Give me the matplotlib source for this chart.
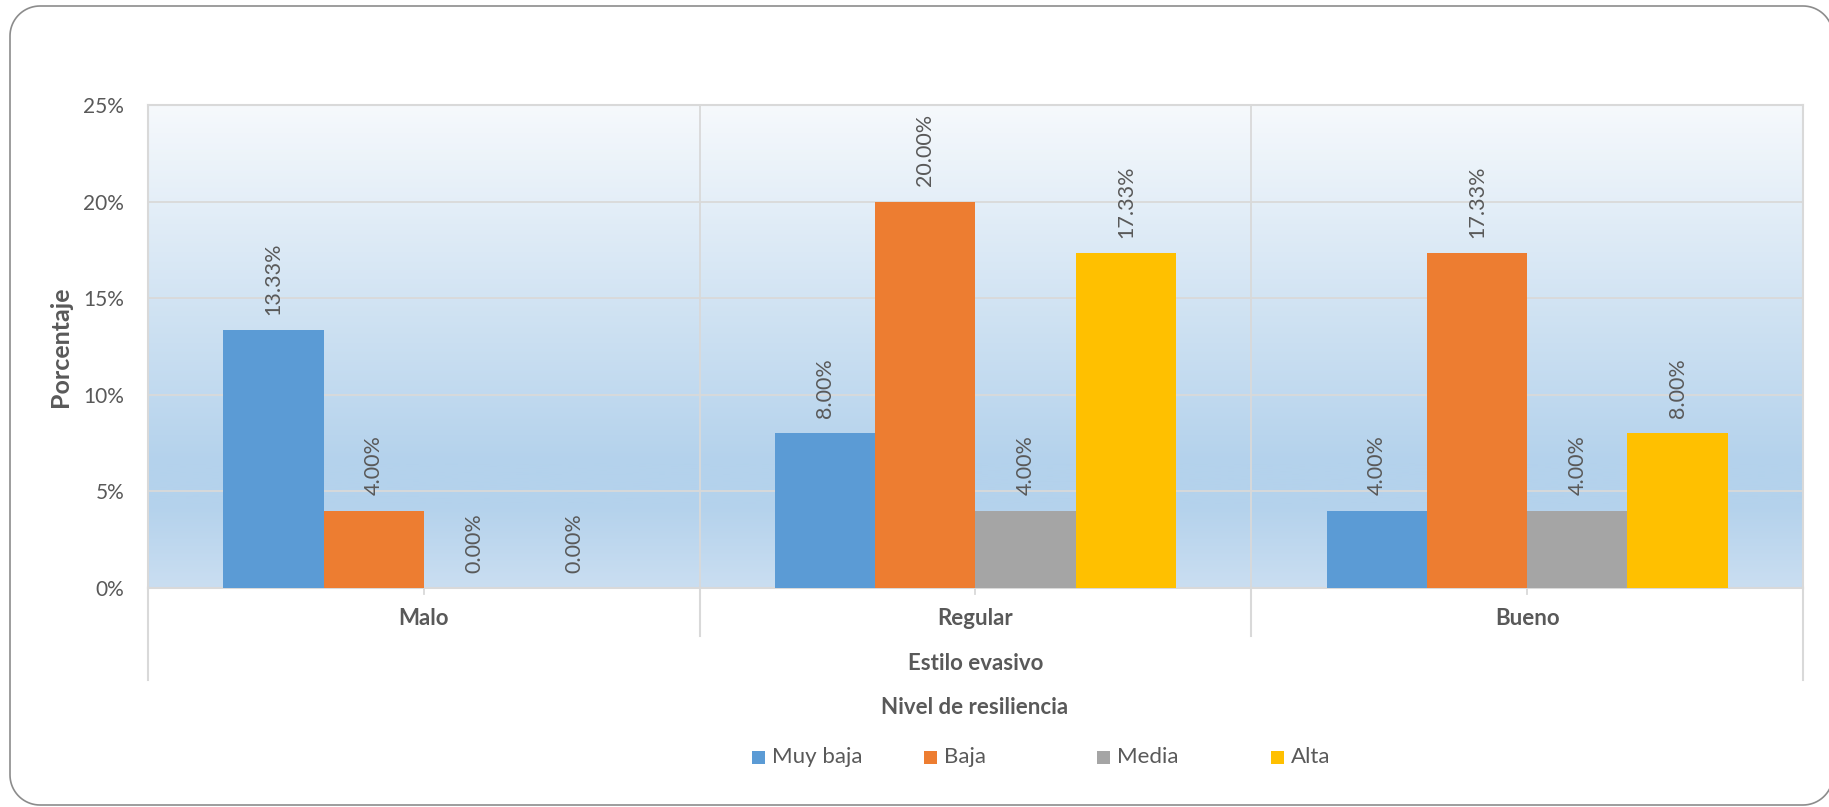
import numpy as np
import matplotlib
matplotlib.use("Agg")
from matplotlib import pyplot as plt
from matplotlib.colors import LinearSegmentedColormap
from matplotlib.patches import Rectangle, Polygon

plt.rcParams['font.family'] = ['Lato', 'DejaVu Sans']

# resilience level groups and the four evasive-style series (percent)
categories = ['Malo', 'Regular', 'Bueno']
series_names = ['Muy baja', 'Baja', 'Media', 'Alta']
muy_baja = [13.33, 8.00, 4.00]
baja = [4.00, 20.00, 17.33]
media = [0.00, 4.00, 4.00]
alta = [0.00, 17.33, 8.00]
yticks = [0, 5, 10, 15, 20, 25]

series = [muy_baja, baja, media, alta]
colors = ['#5B9BD5', '#ED7D31', '#A5A5A5', '#FFC000']
text_col = '#595959'
line_col = '#d9d9d9'

fig = plt.figure(figsize=(18.29, 8.07), dpi=100)
ax = fig.add_axes([0.0809, 0.2714, 0.9049, 0.5985])

# light blue gradient fill behind the bars
grad_cmap = LinearSegmentedColormap.from_list(
    'bg', [(0, '#f6f9fc'), (0.74, '#b4d2ec'), (0.83, '#b4d2ec'), (1.0, '#cadef1')])
grad = np.linspace(0, 1, 256).reshape(-1, 1)
ax.imshow(grad, extent=[-0.5, 2.5, 0, 25], aspect='auto', cmap=grad_cmap,
          origin='upper', zorder=0)
ax.set_facecolor('none')

x = np.arange(len(categories))
w = 1 / 5.5
for i, (vals, col) in enumerate(zip(series, colors)):
    pos = x + (i - 1.5) * w
    bars = ax.bar(pos, vals, width=w, color=col, zorder=3)
    for b, v in zip(bars, vals):
        ax.annotate('%.2f%%' % v, (b.get_x() + b.get_width() / 2, v),
                    xytext=(0, 11), textcoords='offset points',
                    rotation=90, ha='center', va='bottom',
                    fontsize=15.5, color=text_col, zorder=4)

ax.set_xlim(-0.5, 2.5)
ax.set_ylim(0, 25)
ax.set_yticks(yticks)
ax.set_yticklabels(['%d%%' % t for t in yticks])
ax.tick_params(axis='y', length=0, pad=17, labelsize=15, labelcolor=text_col)
ax.set_xticks([])

ax.grid(axis='y', color=line_col, lw=1.3, zorder=1)
for xv in [0.5, 1.5]:
    ax.axvline(xv, color=line_col, lw=1.3, zorder=1)
for s in ax.spines.values():
    s.set_color(line_col)
    s.set_linewidth(1.5)

ax.set_ylabel('Porcentaje', fontsize=18, fontweight='bold', color=text_col,
              labelpad=8)

# two-level category axis below the plot
trans = ax.get_xaxis_transform()
for xv, bottom in [(-0.5, -0.19), (0.5, -0.10), (1.5, -0.10), (2.5, -0.19)]:
    ax.plot([xv, xv], [0, bottom], color=line_col, lw=1.5, transform=trans,
            clip_on=False)
for xv, cat in zip(x, categories):
    ax.plot([xv, xv], [0, -0.012], color=line_col, lw=1.3, transform=trans,
            clip_on=False)
    ax.text(xv, -0.064, cat, transform=trans, ha='center', va='center',
            fontsize=16, fontweight='bold', color=text_col)
ax.text(1.0, -0.157, 'Estilo evasivo', transform=trans, ha='center',
        va='center', fontsize=16, fontweight='bold', color=text_col)

fig.text(0.533, 0.1227, 'Nivel de resiliencia', ha='center', va='center',
         fontsize=16, fontweight='bold', color=text_col)

# legend entries spaced evenly across the bottom
leg_x = [752, 924, 1097, 1271]
leg_y = 757
for lx, name, col in zip(leg_x, series_names, colors):
    fig.patches.append(Rectangle((lx / 1829, 1 - (leg_y + 6.5) / 807),
                                 13 / 1829, 13 / 807, transform=fig.transFigure,
                                 facecolor=col, edgecolor='none'))
    fig.text((lx + 20) / 1829, 1 - leg_y / 807, name, ha='left', va='center',
             fontsize=16, color=text_col)


def rounded_rect(x0, y0, x1, y1, r, n=20):
    # outline of a rectangle with quarter-circle corners, in inches
    pts = []
    for cx, cy, a0 in [(x1 - r, y1 - r, 0), (x0 + r, y1 - r, 90),
                       (x0 + r, y0 + r, 180), (x1 - r, y0 + r, 270)]:
        t = np.radians(np.linspace(a0, a0 + 90, n))
        pts.extend(zip(cx + r * np.cos(t), cy + r * np.sin(t)))
    return np.array(pts)


# chart border, its right side just past the canvas edge
fig.patches.append(Polygon(rounded_rect(0.10, 0.02, 18.33, 8.01, 0.30),
                           closed=True, transform=fig.dpi_scale_trans,
                           facecolor='none', edgecolor='#8c8c8c', lw=1.2))

fig.savefig('out.png', dpi=100)
